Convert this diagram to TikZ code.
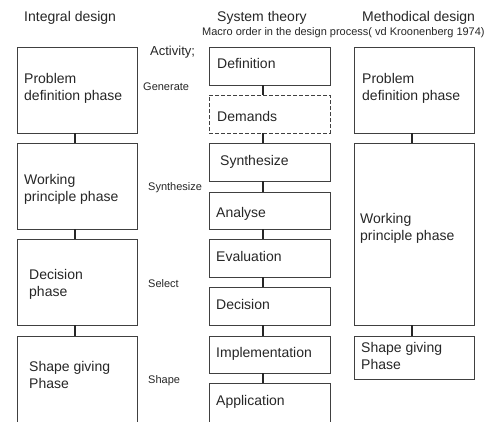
\documentclass[tikz,border=0pt]{standalone}
\usepackage{fontspec}
\setmainfont{Liberation Sans}
\tikzset{
  box/.style={draw=black!75,line width=0.8pt,inner sep=0pt,rectangle},
  phase/.style={anchor=base west,inner sep=0pt,align=left,text=black!85,
    font=\fontsize{14}{16.5}\selectfont},
  act/.style={anchor=base west,inner sep=0pt,text=black!85,
    font=\fontsize{11}{13}\selectfont},
  link/.style={draw=black!85,line width=1.6pt}
}
\begin{document}
\begin{tikzpicture}[x=1pt,y=-1pt]
\useasboundingbox (0,0) rectangle (490,421);
\clip (0,0) rectangle (490,421);
% headings
\node[phase] (h1) at (24,21) {Integral design};
\node[phase] (h2) at (217,21) {System theory};
\node[phase] (h3) at (362,21) {Methodical design};
\node[act] (macro) at (202,35) {Macro order in the design process( vd Kroonenberg 1974)};
% integral design
\node[box,minimum width=120,minimum height=86] (id1) at (77,90) {};
\node[box,minimum width=120,minimum height=86] (id2) at (77,186) {};
\node[box,minimum width=120,minimum height=86] (id3) at (77,282) {};
\node[box,minimum width=120,minimum height=124] (id4) at (77,398) {};
\node[phase] (id1t) at (24,100) {Problem\\definition phase};
\node[phase] (id2t) at (24,201) {Working\\principle phase};
\node[phase] (id3t) at (29,296) {Decision\\phase};
\node[phase] (id4t) at (29,388) {Shape giving\\Phase};
% activities
\node[act,font=\fontsize{13}{15}\selectfont] (a0) at (150,55) {Activity;};
\node[act] (a1) at (143,90) {Generate};
\node[act] (a2) at (148,190) {Synthesize};
\node[act] (a3) at (148,287) {Select};
\node[act] (a4) at (148,383) {Shape};
% system theory
\node[box,minimum width=121,minimum height=38] (st1) at (269.5,66) {};
\node[box,dashed,dash pattern=on 4pt off 2pt,minimum width=121,minimum height=38] (st2) at (269.5,114) {};
\node[box,minimum width=121,minimum height=38] (st3) at (269.5,162) {};
\node[box,minimum width=121,minimum height=37] (st4) at (269.5,210.5) {};
\node[box,minimum width=121,minimum height=38] (st5) at (269.5,258) {};
\node[box,minimum width=121,minimum height=38] (st6) at (269.5,306) {};
\node[box,minimum width=121,minimum height=37] (st7) at (269.5,354.5) {};
\node[box,minimum width=121,minimum height=77] (st8) at (269.5,421.5) {};
\node[phase] (st1t) at (217,68) {Definition};
\node[phase] (st2t) at (217,121) {Demands};
\node[phase] (st3t) at (220,165) {Synthesize};
\node[phase] (st4t) at (216,217) {Analyse};
\node[phase] (st5t) at (216,261) {Evaluation};
\node[phase] (st6t) at (216,309) {Decision};
\node[phase] (st7t) at (216,357) {Implementation};
\node[phase] (st8t) at (216,405) {Application};
% methodical design
\node[box,minimum width=120,minimum height=86] (md1) at (414,90) {};
\node[box,minimum width=120,minimum height=182] (md2) at (414,234) {};
\node[box,minimum width=120,minimum height=43] (md3) at (414,357.5) {};
\node[phase] (md1t) at (362,100) {Problem\\definition phase};
\node[phase] (md2t) at (360,240) {Working\\principle phase};
\node[phase] (md3t) at (361,369) {Shape giving\\Phase};
% connectors
\draw[link] ([xshift=-2]id1.south) -- ([xshift=-2]id2.north);
\draw[link] ([xshift=-2]id2.south) -- ([xshift=-2]id3.north);
\draw[link] ([xshift=-2]id3.south) -- ([xshift=-2]id4.north);
\draw[link] ([xshift=-6.5]st1.south) -- ([xshift=-6.5]st2.north);
\draw[link] ([xshift=-6.5]st2.south) -- ([xshift=-6.5]st3.north);
\draw[link] ([xshift=-6.5]st3.south) -- ([xshift=-6.5]st4.north);
\draw[link] ([xshift=-6.5]st4.south) -- ([xshift=-6.5]st5.north);
\draw[link] ([xshift=-6.5]st5.south) -- ([xshift=-6.5]st6.north);
\draw[link] ([xshift=-6.5]st6.south) -- ([xshift=-6.5]st7.north);
\draw[link] ([xshift=-6.5]st7.south) -- ([xshift=-6.5]st8.north);
\draw[link] ([xshift=-2]md1.south) -- ([xshift=-2]md2.north);
\draw[link] ([xshift=-2]md2.south) -- ([xshift=-2]md3.north);
\end{tikzpicture}
\end{document}
